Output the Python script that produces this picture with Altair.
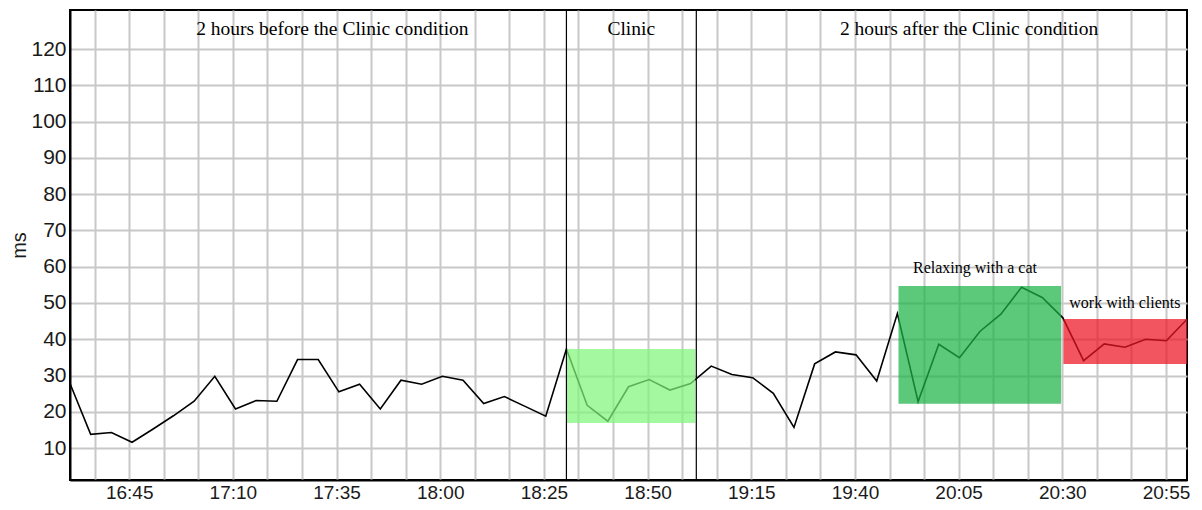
import altair as alt
import pandas as pd

# ---- data ----
times = [
    "16:30:44", "16:35:43", "16:40:43", "16:45:42", "16:50:41", "16:55:40",
    "17:00:40", "17:05:39", "17:10:38", "17:15:37", "17:20:37", "17:25:36",
    "17:30:35", "17:35:34", "17:40:34", "17:45:33", "17:50:32", "17:55:31",
    "18:00:31", "18:05:30", "18:10:29", "18:15:28", "18:20:28", "18:25:27",
    "18:30:26", "18:35:26", "18:40:25", "18:45:24", "18:50:23", "18:55:23",
    "19:00:22", "19:05:21", "19:10:20", "19:15:20", "19:20:19", "19:25:18",
    "19:30:17", "19:35:17", "19:40:16", "19:45:15", "19:50:14", "19:55:14",
    "20:00:13", "20:05:12", "20:10:11", "20:15:11", "20:20:10", "20:25:09",
    "20:30:08", "20:35:08", "20:40:07", "20:45:06", "20:50:05", "20:55:05",
    "21:00:04",
]
ms_values = [
    27.8, 13.8, 14.3, 11.6, 15.2, 18.9,
    22.9, 29.8, 20.8, 23.1, 22.9, 34.4,
    34.4, 25.5, 27.6, 20.8, 28.7, 27.6,
    29.8, 28.7, 22.3, 24.2, 21.5, 18.8,
    37.3, 21.8, 17.4, 26.9, 28.9, 26.0,
    27.8, 32.6, 30.3, 29.4, 25.1, 15.7,
    33.2, 36.5, 35.7, 28.5, 47.1, 22.8,
    38.6, 34.9, 42.2, 46.9, 54.3, 51.5,
    45.9, 34.1, 38.7, 37.8, 40.0, 39.6,
    45.5,
]

tick_labels = ["16:45", "17:10", "17:35", "18:00", "18:25", "18:50",
               "19:15", "19:40", "20:05", "20:30", "20:55"]
y_ticks = [10, 20, 30, 40, 50, 60, 70, 80, 90, 100, 110, 120]

# shaded periods
period_names = ["Clinic", "Relaxing with a cat", "work with clients"]
period_start = ["18:30:26", "19:50:30", "20:30:16"]
period_end = ["19:01:29", "20:29:42", "21:00:04"]
period_low = [16.9, 22.2, 33.2]
period_high = [37.3, 54.7, 45.6]

# condition boundaries
boundaries = ["18:30:26", "19:01:45"]

# annotations
note_texts = ["2 hours before the Clinic condition", "Clinic",
              "2 hours after the Clinic condition"]
note_times = ["17:34:00", "18:46:04", "20:07:32"]
note_y = [125.5, 125.5, 125.5]
box_texts = ["Relaxing with a cat", "work with clients"]
box_times = ["20:08:57", "20:45:05"]
box_y = [59.6, 50.0]


def to_min(s):
    parts = [int(p) for p in s.split(":")]
    while len(parts) < 3:
        parts.append(0)
    return parts[0] * 60 + parts[1] + parts[2] / 60.0


line_df = pd.DataFrame({"t": [to_min(s) for s in times], "ms": ms_values})
rect_df = pd.DataFrame({
    "name": period_names,
    "t1": [to_min(s) for s in period_start],
    "t2": [to_min(s) for s in period_end],
    "lo": period_low,
    "hi": period_high,
})
bound_df = pd.DataFrame({"t": [to_min(s) for s in boundaries]})
note_df = pd.DataFrame({"t": [to_min(s) for s in note_times], "y": note_y, "txt": note_texts})
box_df = pd.DataFrame({"t": [to_min(s) for s in box_times], "y": box_y, "txt": box_texts})

x_min = line_df["t"].min()
x_max = line_df["t"].max()
label_mins = [to_min(s) for s in tick_labels]
step = 25.0 / 3.0
grid_vals = []
for m in label_mins:
    for off in (-1, 0, 1):
        g = round(m + off * step, 4)
        if x_min - 1e-6 <= g <= x_max + 1e-6 and g not in grid_vals:
            grid_vals.append(g)
grid_vals.sort()

expr = "''"
for lab, m in reversed(list(zip(tick_labels, label_mins))):
    expr = f"abs(datum.value - {m}) < 0.01 ? '{lab}' : ({expr})"

x_scale = alt.Scale(domain=[x_min, x_max], nice=False, zero=False)
y_scale = alt.Scale(domain=[1.2, 130.75], nice=False, zero=False)

x_axis = alt.Axis(values=grid_vals, labelExpr=expr, title=None, grid=True,
                  ticks=False, labelPadding=3, labelFontSize=19,
                  labelFont="Liberation Sans", labelColor="#1a1a1a",
                  domainColor="black", domainWidth=2, labelOverlap=False,
                  gridColor="#c8c8c8", gridWidth=2, labelFlush=False)
y_axis = alt.Axis(values=y_ticks, title="ms", grid=True, ticks=False,
                  labelPadding=4, labelFontSize=21, labelFont="Liberation Sans",
                  labelColor="#1a1a1a", titleFont="Liberation Sans",
                  titleFontSize=20, titleFontWeight="normal", titleColor="#1a1a1a",
                  titlePadding=1, domainColor="black", domainWidth=2,
                  labelOverlap=False, gridColor="#c8c8c8", gridWidth=2)

line = alt.Chart(line_df).mark_line(color="black", strokeWidth=1.6).encode(
    x=alt.X("t:Q", scale=x_scale, axis=x_axis),
    y=alt.Y("ms:Q", scale=y_scale, axis=y_axis),
)

rects = alt.Chart(rect_df).mark_rect(opacity=0.72).encode(
    x=alt.X("t1:Q", scale=x_scale, axis=x_axis),
    x2="t2:Q",
    y=alt.Y("lo:Q", scale=y_scale, axis=y_axis),
    y2="hi:Q",
    color=alt.Color("name:N", legend=None,
                    scale=alt.Scale(domain=period_names,
                                    range=["#81f77b", "#1db346", "#ed1321"])),
)

rules = alt.Chart(bound_df).mark_rule(color="black", strokeWidth=1.2).encode(
    x=alt.X("t:Q", scale=x_scale, axis=x_axis),
)

notes = alt.Chart(note_df).mark_text(font="Liberation Serif", fontSize=19.5,
                                     color="black", baseline="middle").encode(
    x=alt.X("t:Q", scale=x_scale, axis=x_axis),
    y=alt.Y("y:Q", scale=y_scale, axis=y_axis),
    text="txt:N",
)

box_notes = alt.Chart(box_df).mark_text(font="Liberation Serif", fontSize=16,
                                        color="black", baseline="middle").encode(
    x=alt.X("t:Q", scale=x_scale, axis=x_axis),
    y=alt.Y("y:Q", scale=y_scale, axis=y_axis),
    text="txt:N",
)

chart = alt.layer(line, rects, rules, notes, box_notes).properties(
    width=1117, height=470,
    padding={"left": 62, "top": 2, "right": 5, "bottom": 22},
    autosize=alt.AutoSizeParams(type="none"),
    background="white",
).configure_view(stroke="black", strokeWidth=2).configure_axis(
    labelOverlap=False
)

chart.save("out.html", embed_options={"renderer": "svg", "actions": False})
